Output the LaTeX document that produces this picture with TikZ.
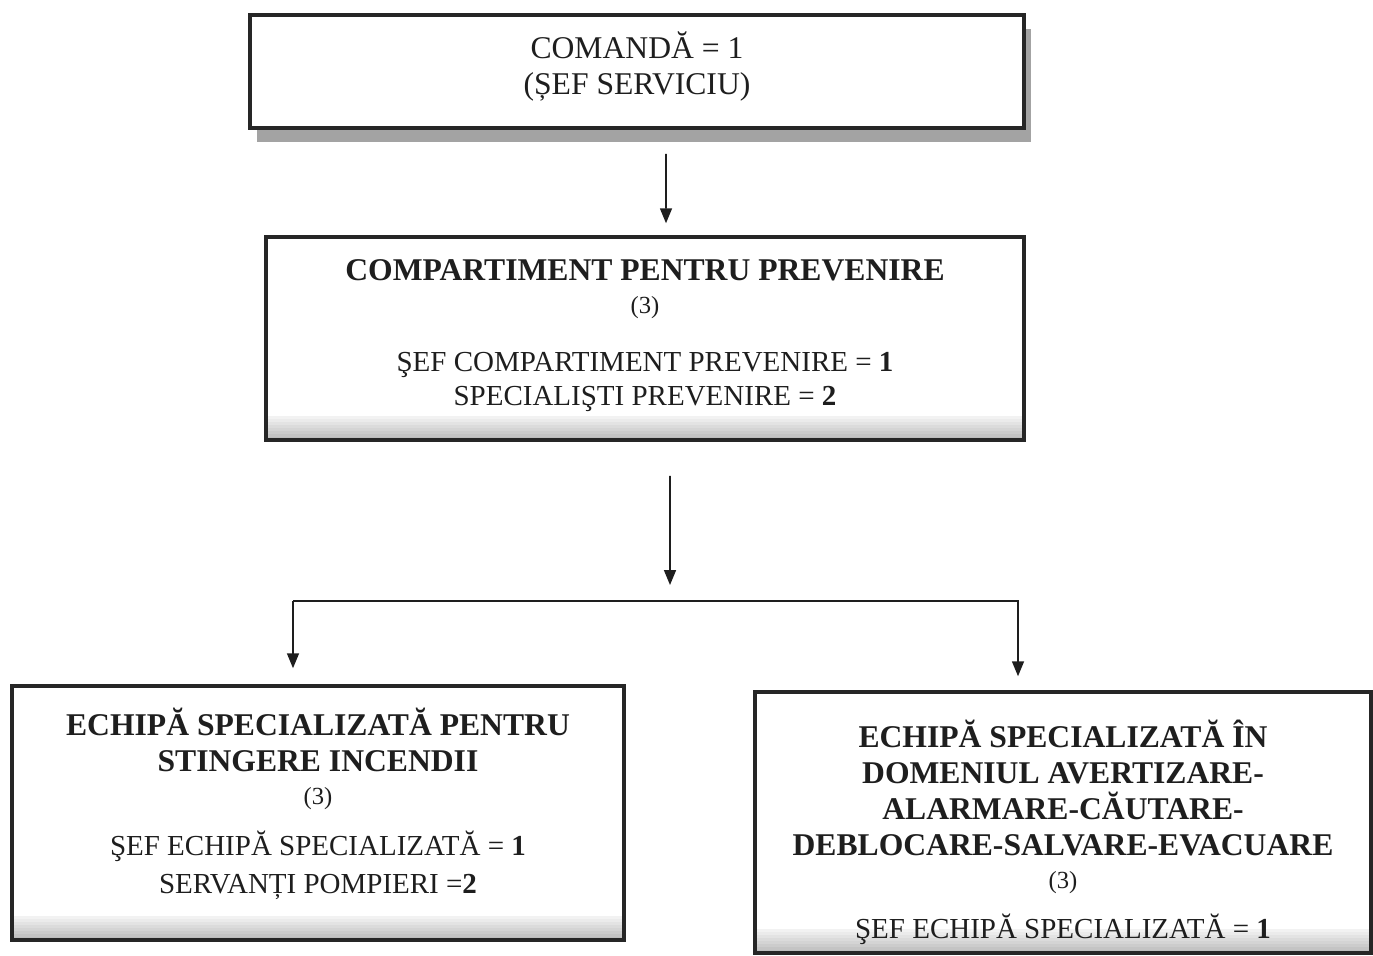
\documentclass[tikz,border=0pt]{standalone}
\usepackage{fontspec}
\setmainfont{Liberation Serif}
\usetikzlibrary{positioning, arrows.meta, shadows}
\definecolor{psInk}{HTML}{1E1E1E}
\definecolor{psFrame}{HTML}{262626}
\definecolor{psShade}{HTML}{A3A3A3}
\newcommand{\unithead}[1]{{\fontsize{18}{20.5}\selectfont\bfseries #1}}
\newcommand{\unitcount}[1]{{\fontsize{14}{16}\selectfont #1}}
\tikzset{
  unitbox/.style={
    rectangle,
    draw=psFrame, line width=2pt,
    fill=white,
    inner sep=0pt
  },
  shadedbox/.style={
    unitbox,
    path picture={
      \foreach \band in {0,...,7}
        \fill[black!\the\numexpr 26-3*\band\relax]
          ([yshift=\band*0.06cm]path picture bounding box.south west)
          rectangle ([yshift=\band*0.06cm+0.06cm]path picture bounding box.south east);
    }
  },
  unittext/.style={
    align=center, inner sep=0pt,
    text=psInk,
    font=\fontsize{16.5}{20.5}\selectfont
  },
  arrow/.style={
    -{Triangle[length=3mm, width=2.4mm]},
    psInk, line width=0.9pt
  }
}

\begin{document}
\begin{tikzpicture}
  \useasboundingbox (0,0) rectangle (27.46,-19.1);

  \node[unitbox, minimum width=15.48cm, minimum height=2.26cm,
        drop shadow={shadow xshift=0.14cm, shadow yshift=-0.28cm, fill=psShade, opacity=1}]
        (cmd) at (12.74,-1.43) {};
  \node[unittext, font=\fontsize{18}{21}\selectfont] (cmdText) at ([yshift=0.1cm]cmd.center)
    {COMANDĂ = 1\\(ȘEF SERVICIU)};

  \node[shadedbox, minimum width=15.16cm, minimum height=4.06cm] (prev) at (12.9,-6.77) {};
  \node[unittext] (prevText) at ([yshift=0.06cm]prev.center)
    {\unithead{COMPARTIMENT PENTRU PREVENIRE}\\[-2pt]
     \unitcount{(3)}\\[13pt]
     ŞEF COMPARTIMENT PREVENIRE = \textbf{1}\\[-1.5pt]
     SPECIALIŞTI PREVENIRE = \textbf{2}};

  \node[shadedbox, minimum width=12.24cm, minimum height=5.08cm] (fire) at (6.36,-16.26) {};
  \node[unittext] (fireText) at ([yshift=0.18cm]fire.center)
    {\unithead{ECHIPĂ SPECIALIZATĂ PENTRU}\\
     \unithead{STINGERE INCENDII}\\[-2pt]
     \unitcount{(3)}\\[8.5pt]
     ŞEF ECHIPĂ SPECIALIZATĂ = \textbf{1}\\[1.5pt]
     SERVANȚI POMPIERI =\textbf{2}};

  \node[shadedbox, minimum width=12.32cm, minimum height=5.22cm] (rescue) at (21.26,-16.45) {};
  \node[unittext] (rescueText) at ([yshift=-0.2cm]rescue.center)
    {\unithead{ECHIPĂ SPECIALIZATĂ ÎN}\\
     \unithead{DOMENIUL AVERTIZARE-}\\
     \unithead{ALARMARE-CĂUTARE-}\\
     \unithead{DEBLOCARE-SALVARE-EVACUARE}\\[-2pt]
     \unitcount{(3)}\\[8pt]
     ŞEF ECHIPĂ SPECIALIZATĂ = \textbf{1}};

  % connectors
  \coordinate (split) at (13.4,-11.7);
  \draw[arrow] ([xshift=0.58cm, yshift=-0.48cm]cmd.south) -- ([xshift=0.42cm, yshift=0.24cm]prev.north);
  \draw[arrow] ([xshift=0.5cm, yshift=-0.68cm]prev.south) -- (split);
  \draw[arrow] ([xshift=-0.5cm, yshift=1.66cm]fire.north) -- ([xshift=-0.5cm, yshift=0.32cm]fire.north);
  \draw[arrow] ([xshift=-0.5cm, yshift=1.66cm]fire.north) -| ([xshift=-0.9cm, yshift=0.28cm]rescue.north);
\end{tikzpicture}
\end{document}
